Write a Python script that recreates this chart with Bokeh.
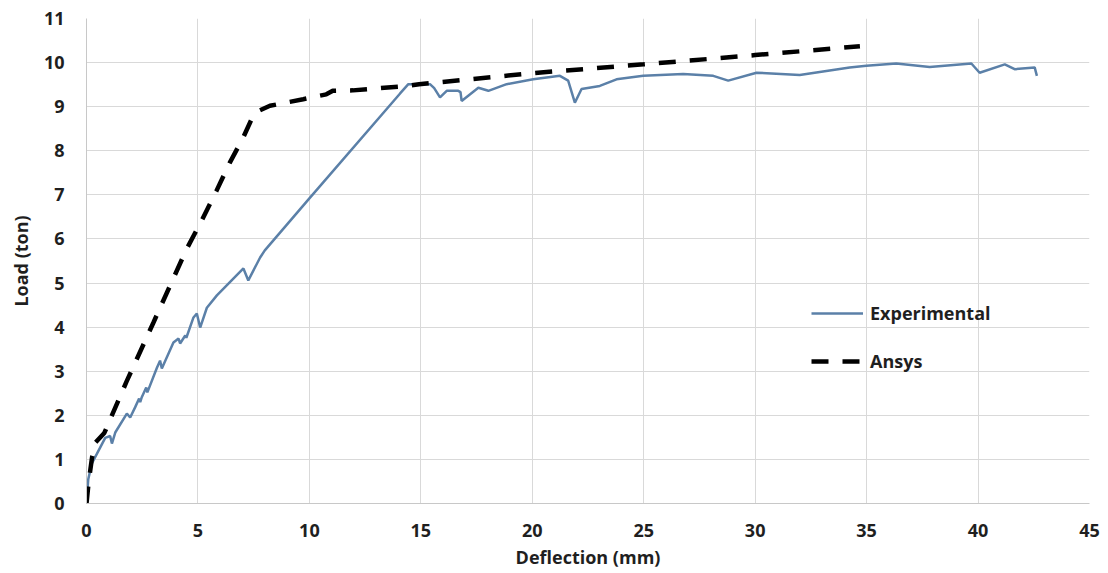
from bokeh.plotting import figure
from bokeh.models import FixedTicker, Legend, LegendItem, Range1d
from bokeh.embed import file_html
from bokeh.resources import INLINE

# Load-deflection data (deflection in mm, load in ton)
exp_deflection = [0.0, 0.02, 0.08, 0.24, 0.47, 0.84, 1.06, 1.14, 1.29, 1.81, 1.96, 2.18,
                  2.36, 2.41, 2.48, 2.68, 2.73, 3.16, 3.30, 3.38, 3.90, 4.13, 4.20, 4.43,
                  4.48, 4.80, 4.95, 5.10, 5.40, 5.85, 7.04, 7.26, 7.79, 8.00, 10.00, 14.07,
                  14.44, 15.41, 15.60, 15.86, 16.16, 16.68, 16.78, 16.83, 17.58, 18.03,
                  18.85, 20.04, 21.24, 21.61, 21.91, 22.21, 23.03, 23.78, 24.98, 26.77,
                  28.12, 28.79, 30.06, 32.00, 34.24, 34.99, 36.33, 37.83, 39.70, 40.07,
                  41.20, 41.64, 42.54, 42.64]
exp_load = [0.0, 0.15, 0.55, 0.91, 1.13, 1.49, 1.53, 1.36, 1.61, 2.04, 1.95, 2.18,
            2.38, 2.30, 2.41, 2.63, 2.52, 3.08, 3.24, 3.06, 3.65, 3.74, 3.63, 3.81,
            3.76, 4.22, 4.31, 3.99, 4.44, 4.72, 5.33, 5.06, 5.58, 5.74, 6.92, 9.30,
            9.51, 9.51, 9.42, 9.21, 9.36, 9.36, 9.33, 9.13, 9.43, 9.36,
            9.51, 9.62, 9.70, 9.59, 9.09, 9.40, 9.47, 9.62, 9.70, 9.74,
            9.70, 9.59, 9.77, 9.72, 9.89, 9.93, 9.98, 9.90, 9.98, 9.77,
            9.96, 9.85, 9.89, 9.70]

ansys_deflection = [0.0, 0.10, 0.25, 0.40, 0.80, 1.80, 3.00, 4.49, 5.16, 5.83, 6.43,
                    7.03, 7.41, 7.70, 8.23, 9.72, 10.76, 11.05, 11.95, 14.35, 14.92,
                    20.0, 25.0, 30.0, 34.7]
ansys_load = [0.0, 0.50, 1.05, 1.38, 1.60, 2.77, 4.10, 5.77, 6.41, 7.09, 7.73,
              8.30, 8.72, 8.90, 9.02, 9.17, 9.28, 9.36, 9.37, 9.47, 9.51,
              9.76, 9.96, 10.17, 10.37]

x_ticks = [0, 5, 10, 15, 20, 25, 30, 35, 40, 45]
y_ticks = [0, 1, 2, 3, 4, 5, 6, 7, 8, 9, 10, 11]

FONT = "Open Sans"
TEXT = "#1f1f1f"
GRID = "#d9d9d9"

p = figure(width=1108, height=573, output_backend="svg", toolbar_location=None,
           x_range=Range1d(0, 45), y_range=Range1d(0, 11),
           min_border_left=86, min_border_right=19, min_border_top=18, min_border_bottom=70)
p.outline_line_color = None
p.background_fill_color = "white"
p.border_fill_color = "white"

exp_r = p.line(exp_deflection, exp_load, line_color="#5b80a8", line_width=2.5)
ansys_r = p.line(ansys_deflection, ansys_load, line_color="black", line_width=4.5,
                 line_dash="17 14")

p.xaxis.ticker = FixedTicker(ticks=x_ticks)
p.yaxis.ticker = FixedTicker(ticks=y_ticks)
p.xgrid.ticker = FixedTicker(ticks=x_ticks)
p.ygrid.ticker = FixedTicker(ticks=y_ticks)
p.xgrid.grid_line_color = GRID
p.ygrid.grid_line_color = GRID

for ax in (p.xaxis[0], p.yaxis[0]):
    ax.axis_line_color = "#c8c8c8"
    ax.major_tick_line_color = None
    ax.minor_tick_line_color = None
    ax.major_tick_out = 0
    ax.major_tick_in = 0
    ax.major_label_text_font = FONT
    ax.major_label_text_font_style = "bold"
    ax.major_label_text_font_size = "18px"
    ax.major_label_text_color = TEXT
    ax.axis_label_text_font = FONT
    ax.axis_label_text_font_style = "bold"
    ax.axis_label_text_font_size = "18px"
    ax.axis_label_text_color = TEXT

p.xaxis.axis_label = "Deflection (mm)"
p.yaxis.axis_label = "Load (ton)"
p.xaxis.major_label_standoff = 20
p.yaxis.major_label_standoff = 22
p.xaxis.axis_label_standoff = 5
p.yaxis.axis_label_standoff = 8

legend = Legend(items=[LegendItem(label="Experimental", renderers=[exp_r]),
                       LegendItem(label="Ansys", renderers=[ansys_r])],
                location=(725, 130))
legend.glyph_width = 52
legend.glyph_height = 20
legend.label_height = 20
legend.label_standoff = 7
legend.spacing = 24
legend.padding = 0
legend.margin = 0
legend.border_line_color = None
legend.background_fill_alpha = 0
legend.label_text_font = FONT
legend.label_text_font_style = "bold"
legend.label_text_font_size = "18px"
legend.label_text_color = TEXT
p.add_layout(legend, "center")

open("out.html", "w").write(file_html(p, INLINE))
